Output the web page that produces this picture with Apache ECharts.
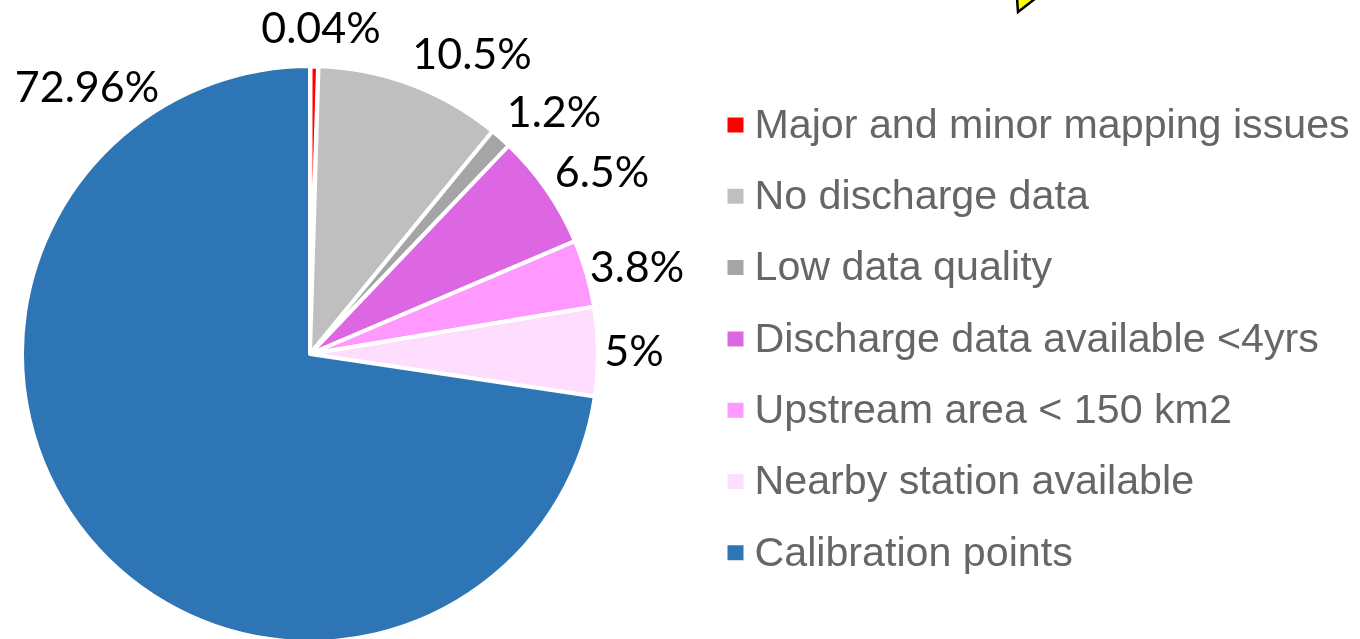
<!DOCTYPE html>
<html>
<head>
<meta charset="utf-8">
<style>html,body{margin:0;padding:0;background:#fff}#c{width:1360px;height:639px}</style>
<script src="https://cdn.jsdelivr.net/npm/echarts@6/dist/echarts.min.js"></script>
</head>
<body>
<div id="c"></div>
<script>
const categories = ["Major and minor mapping issues","No discharge data","Low data quality","Discharge data available <4yrs","Upstream area < 150 km2","Nearby station available","Calibration points"];
const values = [0.04,10.5,1.2,6.5,3.8,5,72.96];
const colors = ["#ff0000","#bfbfbf","#a5a5a5","#dd66e3","#ff99ff","#ffddff","#2e75b6"];
const labelSpots = [[321,29],[472,55],[554,113],[602,173],[637,268],[634,352],[87,88]];

const chart = echarts.init(document.getElementById('c'), null, {renderer:'canvas'});
chart.setOption({
  animation:false,
  backgroundColor:'#ffffff',
  legend:{
    orient:'vertical', left:725.5, top:102, padding:0,
    icon:'path://M0,0L18,0L18,17L0,17Z M0,20L18,20Z', itemWidth:18, itemHeight:20, itemGap:22.3,
    selectedMode:false,
    textStyle:{fontFamily:'Liberation Sans',fontSize:41.2,lineHeight:49,color:'#666666',padding:[0,0,0,5],verticalAlign:'bottom'},
    data:categories
  },
  series:[{
    type:'pie', center:[310,354], radius:[0,288], startAngle:90, clockwise:true, minAngle:1.7,
    avoidLabelOverlap:false,
    itemStyle:{borderColor:'#ffffff',borderWidth:4},
    label:{show:true,position:'outside',formatter:'{c}%',fontFamily:'Lato',fontSize:43,color:'#000000'},
    labelLine:{show:false},
    labelLayout:function(p){
      const s=labelSpots[p.dataIndex];
      return {x:s[0],y:s[1],align:'center',verticalAlign:'middle'};
    },
    emphasis:{disabled:true},
    data:categories.map((n,i)=>({name:n,value:values[i],itemStyle:{color:colors[i],borderWidth:i===0?5:4}}))
  }],
  graphic:[{
    type:'polygon', silent:true,
    shape:{points:[[1018,12],[1036,-2],[1017,-2]]},
    style:{fill:'#ffff00',stroke:'#000000',lineWidth:2.5}
  }]
});
</script>
</body>
</html>
